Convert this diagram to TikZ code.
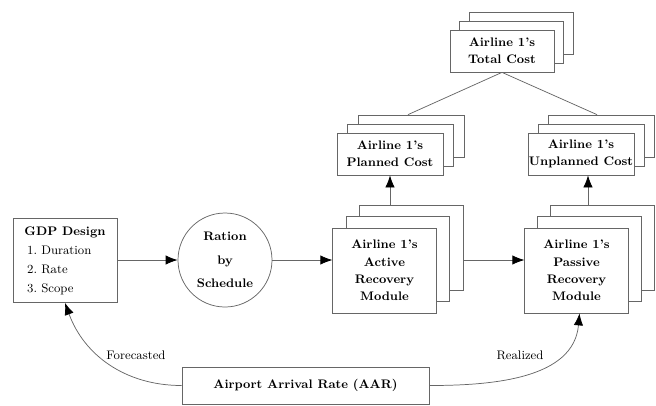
\documentclass[tikz,border=0pt]{standalone}
\usetikzlibrary{arrows.meta,calc}
\begin{document}
\begin{tikzpicture}[x=0.75pt,y=-0.75pt,
  box/.style={draw=black!60, line width=0.55pt, fill=white, inner sep=0pt, align=center,
    font=\fontsize{9.3}{13}\selectfont\bfseries},
  modbox/.style={box, minimum width=77.6pt, minimum height=63.75pt},
  costbox/.style={box, minimum width=79.5pt, minimum height=31.5pt,
    font=\fontsize{9.3}{12.5}\selectfont\bfseries},
  totbox/.style={costbox, minimum width=78pt},
  arr/.style={draw=black!60, line width=0.55pt, -{Latex[length=9pt,width=7pt,black]}},
  conn/.style={draw=black!60, line width=0.55pt},
  lbl/.style={font=\fontsize{9.3}{11}\selectfont}
]
\useasboundingbox (0,0) rectangle (656,405);

% GDP design
\node[box, minimum width=78pt, minimum height=63pt, font=\fontsize{9.3}{14.25}\selectfont] (gdp) at (65,260.5)
  {\begin{tabular}{@{}l@{}}\multicolumn{1}{@{}c@{}}{\bfseries GDP Design}\\
   \hspace{2pt}1.~Duration\\ \hspace{2pt}2.~Rate\\ \hspace{2pt}3.~Scope\end{tabular}};

% Ration by schedule
\node[draw=black!60, line width=0.55pt, circle, minimum size=70.5pt, inner sep=0pt, align=center,
  font=\fontsize{9.3}{17.6}\selectfont\bfseries] (rbs) at (225,260) {Ration\\by\\Schedule};

% Active recovery module
\node[modbox] (active3) at (411.5,247.9) {};
\node[modbox] (active2) at (398,259.2) {};
\node[modbox] (active) at (384.5,270.5) {Airline 1's\\Active\\Recovery\\Module};

% Passive recovery module
\node[modbox] (passive3) at (602.5,247.9) {};
\node[modbox] (passive2) at (589.5,259.2) {};
\node[modbox] (passive) at (576.5,270.5) {Airline 1's\\Passive\\Recovery\\Module};

% Planned cost
\node[costbox] (planned3) at (411,136) {};
\node[costbox] (planned2) at (400.5,145) {};
\node[costbox] (planned) at (390,154) {Airline 1's\\Planned Cost};

% Unplanned cost
\node[costbox] (unplanned3) at (601,136) {};
\node[costbox] (unplanned2) at (591,145) {};
\node[costbox] (unplanned) at (581,154) {Airline 1's\\Unplanned Cost};

% Total cost
\node[totbox] (total3) at (521,33) {};
\node[totbox] (total2) at (511.5,42) {};
\node[totbox] (total) at (502,51) {Airline 1's\\Total Cost};

% AAR
\node[box, minimum width=185.25pt, minimum height=27.75pt] (aar) at (305.5,385.5)
  {Airport Arrival Rate (AAR)};

% connectors
\draw[arr] (gdp.east |- rbs.west) -- (rbs.west);
\draw[arr] (rbs.east) -- (rbs.east -| active.west);
\draw[arr] (active3.east |- rbs.east) -- (passive.west |- rbs.east);

\draw[arr] (active3.north -| planned.south) -- (planned.south);
\coordinate (ua) at ($(unplanned.south)+(7,0)$);
\draw[arr] (passive3.north -| ua) -- (ua);

\draw[conn] (total.south) -- ($(planned3.north)+(-3,0)$);
\draw[conn] (total.south) -- ($(unplanned3.north)+(-4,0)$);

\draw[arr] (aar.west) to[out=180,in=-70] (gdp.south);
\draw[arr] (aar.east) to[out=0,in=-95] ($(passive.south)+(3,0)$);

\node[lbl] (fc) at (136,355) {Forecasted};
\node[lbl] (rz) at (520,355) {Realized};
\end{tikzpicture}
\end{document}
